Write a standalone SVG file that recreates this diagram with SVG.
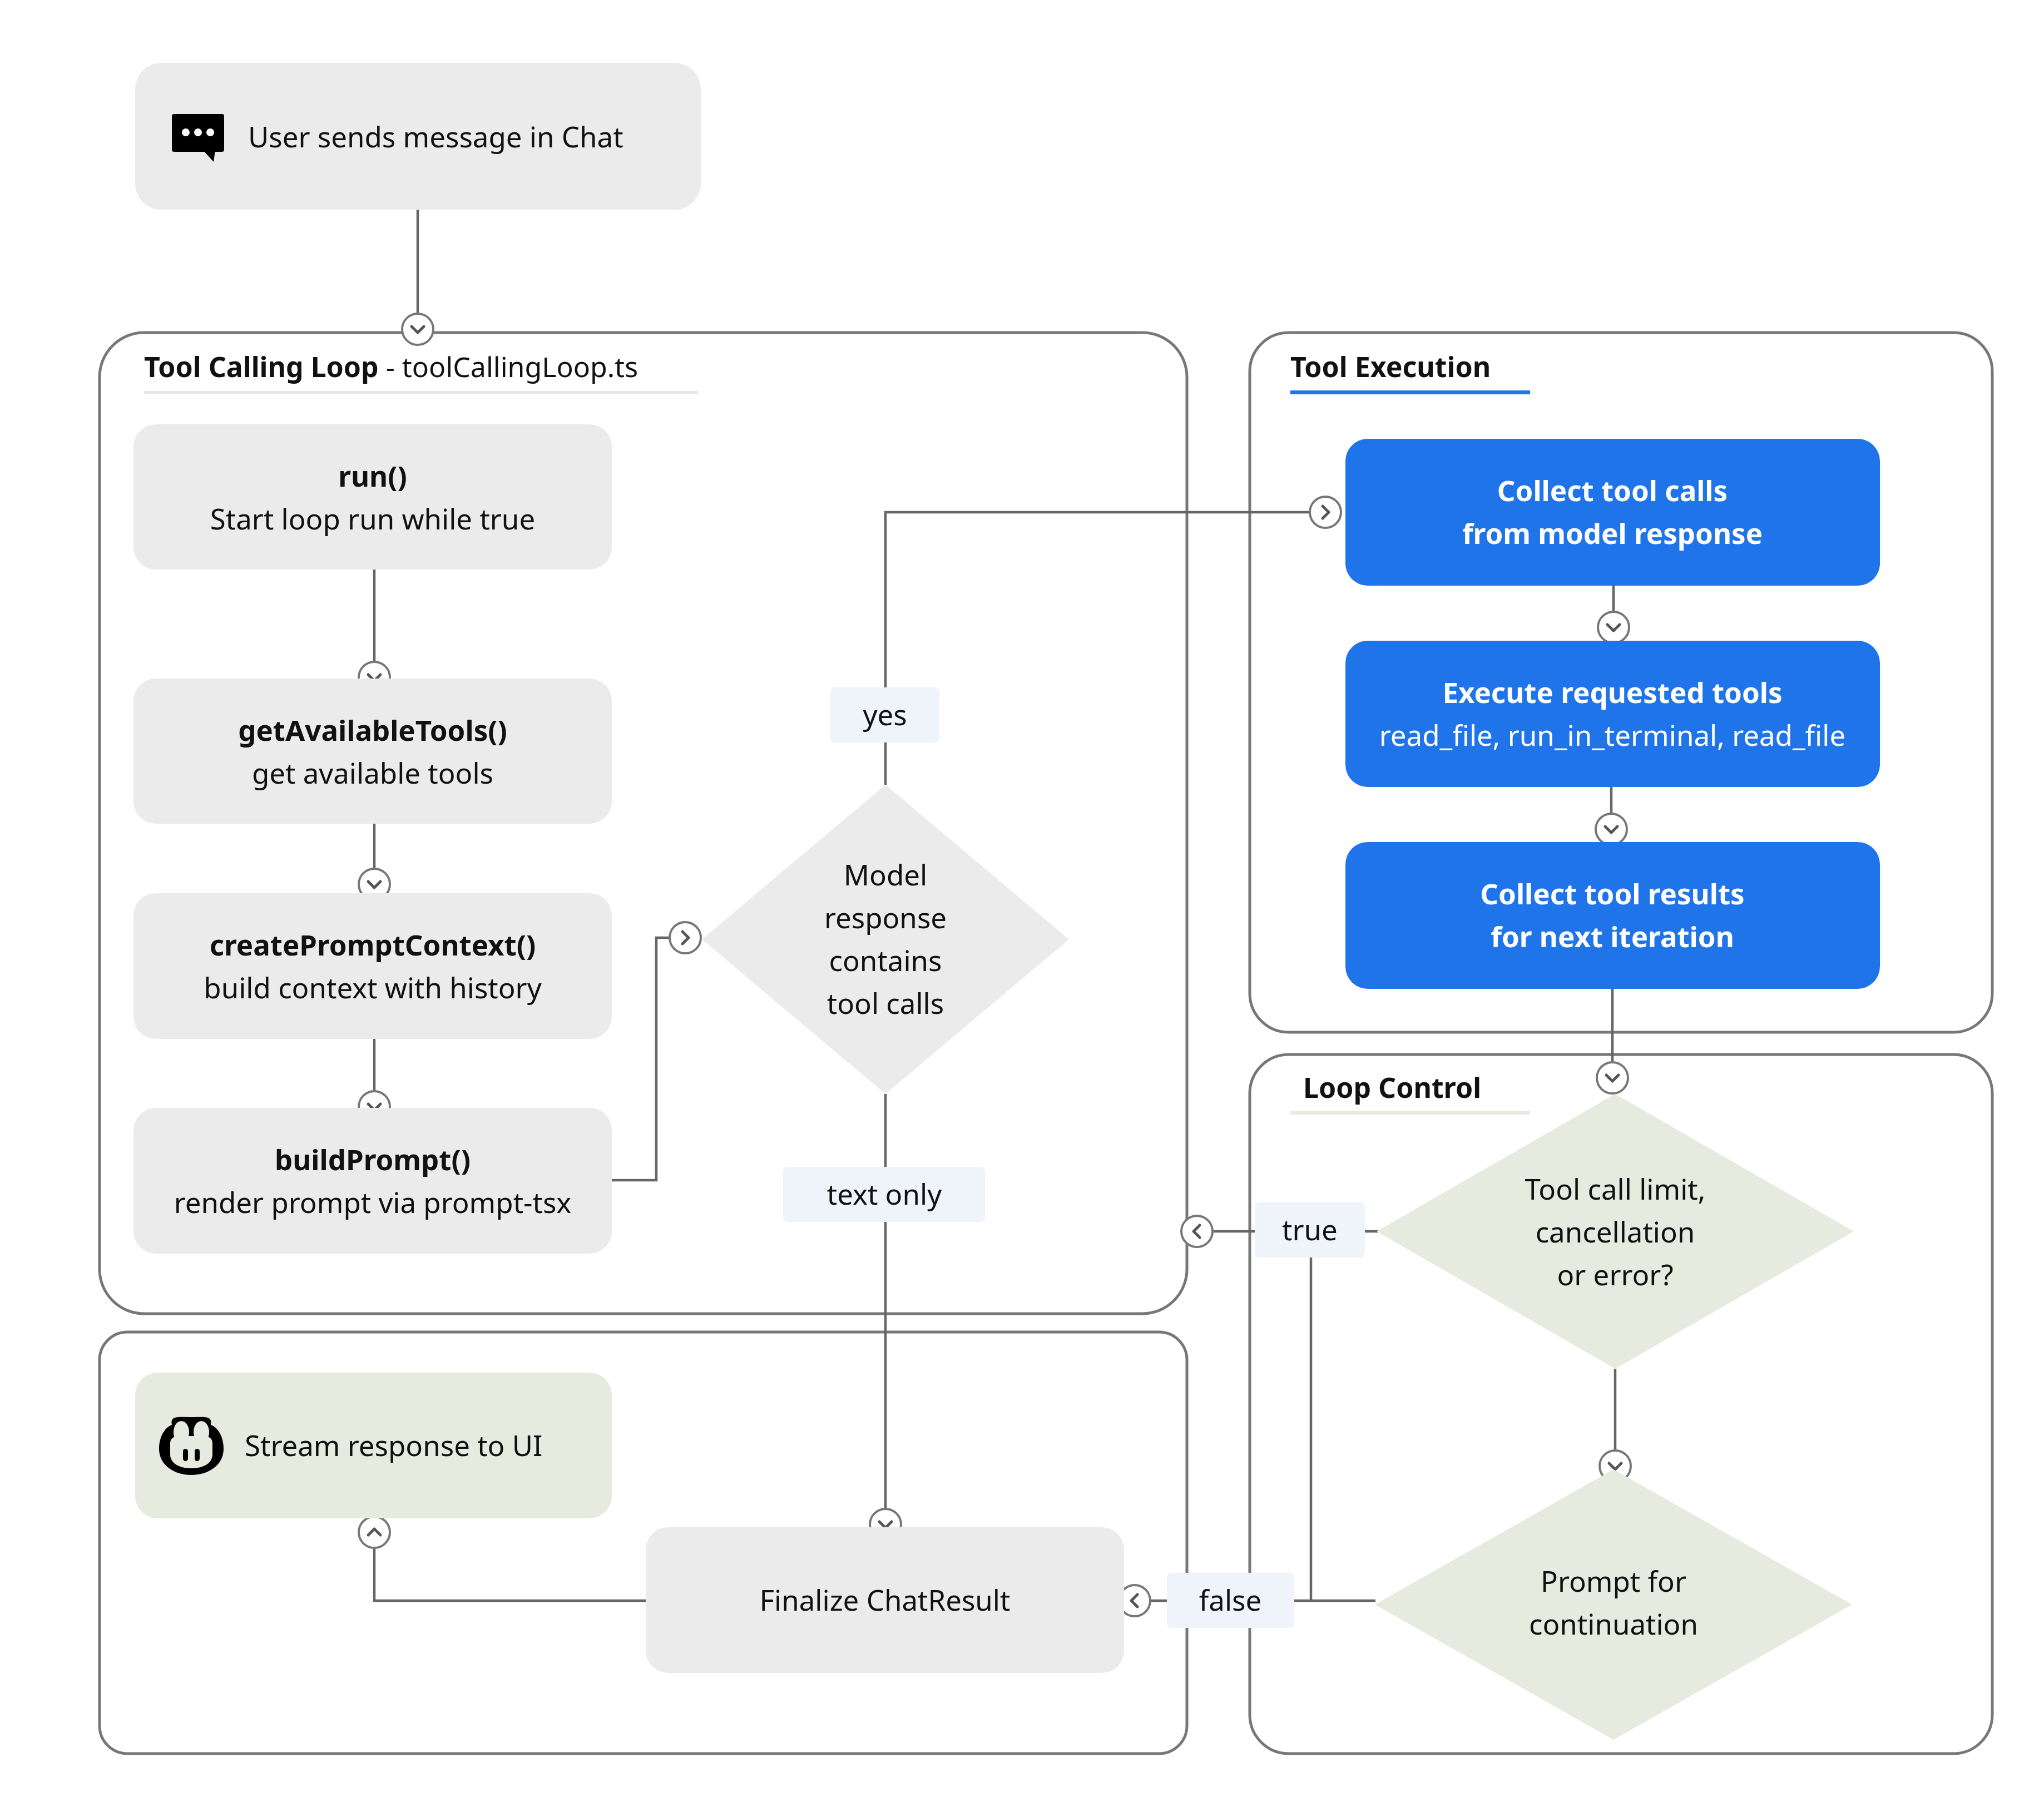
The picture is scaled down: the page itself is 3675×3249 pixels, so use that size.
<svg xmlns="http://www.w3.org/2000/svg" width="3675" height="3249" viewBox="0 0 3675 3249">
<style>
.t{font-family:"Noto Sans","Open Sans",sans-serif;font-size:51px;fill:#111;text-anchor:middle}
.b{font-weight:bold}
.w{fill:#fff;font-weight:bold}
.ttl{font-family:"Noto Sans","Open Sans",sans-serif;font-size:50px;font-weight:bold;fill:#111}
.grp{fill:#fff;stroke:#777;stroke-width:5}
.n{fill:#ebebeb}
.bl{fill:#1f74ea}
.lc{fill:#e6eadf}
.lab{fill:#eef4fa}
.c{fill:none;stroke:#666;stroke-width:4.5}
.dot{fill:#fff;stroke:#777;stroke-width:4}
.chev{fill:none;stroke:#555;stroke-width:5;stroke-linecap:round;stroke-linejoin:round}
</style>
<defs>
<g id="cd"><circle r="28" class="dot"/><path d="M-11,-5 L0,6 L11,-5" class="chev"/></g>
<g id="cu"><circle r="28" class="dot"/><path d="M-11,5 L0,-6 L11,5" class="chev"/></g>
<g id="cr"><circle r="28" class="dot"/><path d="M-5,-11 L6,0 L-5,11" class="chev"/></g>
<g id="cl"><circle r="28" class="dot"/><path d="M5,-11 L-6,0 L5,11" class="chev"/></g>
</defs>
<rect width="3675" height="3249" fill="#fff"/>
<g id="containers">
<rect x="179" y="598" width="1955" height="1764" rx="80" class="grp"/>
<rect x="2247" y="598" width="1335" height="1258" rx="70" class="grp"/>
<rect x="2247" y="1896" width="1335" height="1257" rx="70" class="grp"/>
<rect x="179" y="2395" width="1955" height="758" rx="50" class="grp"/>
<text x="259" y="678" class="ttl">Tool Calling Loop <tspan font-weight="normal">- toolCallingLoop.ts</tspan></text>
<rect x="259" y="703" width="996" height="6" fill="#e8e8e8"/>
<text x="2320" y="678" class="ttl">Tool Execution</text>
<rect x="2320" y="702" width="431" height="7" fill="#1f74ea"/>
<text x="2343" y="1974" class="ttl">Loop Control</text>
<rect x="2320" y="1998" width="431" height="6" fill="#e6eadf"/>
</g>
<g id="connectors">
<path class="c" d="M751,377 V564"/>
<path class="c" d="M673,1024 V1190"/>
<path class="c" d="M673,1481 V1562"/>
<path class="c" d="M673,1868 V1962"/>
<path class="c" d="M1100,2122 H1180 V1686 H1204"/>
<path class="c" d="M1592,1411 V921 H2355"/>
<path class="c" d="M1592,1967 V2713"/>
<path class="c" d="M2901,1053 V1100"/>
<path class="c" d="M2897,1415 V1463"/>
<path class="c" d="M2899,1778 V1910"/>
<path class="c" d="M2478,2214 H2180"/>
<path class="c" d="M2904,2461 V2608"/>
<path class="c" d="M2357,2214 V2878"/>
<path class="c" d="M2473,2878 H2068"/>
<path class="c" d="M1161,2878 H673 V2783"/>
<use href="#cd" x="751" y="592"/>
<use href="#cd" x="673" y="1218"/>
<use href="#cd" x="673" y="1590"/>
<use href="#cd" x="673" y="1990"/>
<use href="#cr" x="1232" y="1686"/>
<use href="#cr" x="2383" y="921"/>
<use href="#cd" x="1592" y="2741"/>
<use href="#cd" x="2901" y="1128"/>
<use href="#cd" x="2897" y="1491"/>
<use href="#cd" x="2899" y="1938"/>
<use href="#cl" x="2152" y="2214"/>
<use href="#cd" x="2904" y="2636"/>
<use href="#cl" x="2040" y="2878"/>
<use href="#cu" x="673" y="2755"/>
<rect x="1493" y="1236" width="196" height="99" rx="8" class="lab"/>
<text x="1591" y="1304" class="t">yes</text>
<rect x="1408" y="2098" width="363" height="99" rx="8" class="lab"/>
<text x="1590" y="2166" class="t">text only</text>
<rect x="2256" y="2162" width="198" height="99" rx="8" class="lab"/>
<text x="2355" y="2230" class="t">true</text>
<rect x="2098" y="2828" width="229" height="99" rx="8" class="lab"/>
<text x="2212" y="2896" class="t">false</text>
</g>
<g id="user">
<rect x="243" y="113" width="1017" height="264" rx="47" class="n"/>
<rect x="309" y="205" width="94" height="68" rx="4" fill="#000"/>
<path d="M365,270 L387,270 L384,291 Z" fill="#000"/>
<circle cx="334" cy="238" r="7" fill="#fff"/><circle cx="356" cy="238" r="7" fill="#fff"/><circle cx="378" cy="238" r="7" fill="#fff"/>
<text x="446" y="265" class="t" style="text-anchor:start">User sends message in Chat</text>
</g>
<g id="run"><rect x="240" y="763" width="860" height="261" rx="40" class="n"/>
<text x="670" y="875" class="t b">run()</text><text x="670" y="952" class="t">Start loop run while true</text></g>
<g id="tools"><rect x="240" y="1220" width="860" height="261" rx="40" class="n"/>
<text x="670" y="1332" class="t b">getAvailableTools()</text><text x="670" y="1409" class="t">get available tools</text></g>
<g id="ctx"><rect x="240" y="1606" width="860" height="262" rx="40" class="n"/>
<text x="670" y="1718" class="t b">createPromptContext()</text><text x="670" y="1795" class="t">build context with history</text></g>
<g id="build"><rect x="240" y="1992" width="860" height="262" rx="40" class="n"/>
<text x="670" y="2104" class="t b">buildPrompt()</text><text x="670" y="2181" class="t">render prompt via prompt-tsx</text></g>
<g id="model"><path d="M1592,1411 L1922,1689 L1592,1967 L1262,1689 Z" fill="#ebebeb"/>
<text x="1592" y="1592" class="t">Model</text><text x="1592" y="1669" class="t">response</text><text x="1592" y="1746" class="t">contains</text><text x="1592" y="1823" class="t">tool calls</text></g>
<g id="collect"><rect x="2419" y="789" width="961" height="264" rx="40" class="bl"/>
<text x="2899" y="901" class="t w">Collect tool calls</text><text x="2899" y="978" class="t w">from model response</text></g>
<g id="exec"><rect x="2419" y="1152" width="961" height="263" rx="40" class="bl"/>
<text x="2899" y="1264" class="t w">Execute requested tools</text><text x="2899" y="1341" class="t" style="fill:#fff">read_file, run_in_terminal, read_file</text></g>
<g id="results"><rect x="2419" y="1514" width="961" height="264" rx="40" class="bl"/>
<text x="2899" y="1626" class="t w">Collect tool results</text><text x="2899" y="1703" class="t w">for next iteration</text></g>
<g id="limit"><path d="M2904,1967 L3333,2214 L2904,2461 L2475,2214 Z" class="lc"/>
<text x="2904" y="2157" class="t">Tool call limit,</text><text x="2904" y="2234" class="t">cancellation</text><text x="2904" y="2311" class="t">or error?</text></g>
<g id="cont"><path d="M2901,2642 L3330,2885 L2901,3128 L2472,2885 Z" class="lc"/>
<text x="2901" y="2862" class="t">Prompt for</text><text x="2901" y="2939" class="t">continuation</text></g>
<g id="stream"><rect x="243" y="2468" width="857" height="262" rx="40" class="lc"/>
<g transform="translate(344,2600)">
<path d="M-58,5 C-58,-20 -45,-35 -35,-38 C-38,-55 -25,-52 0,-52 C25,-52 38,-55 35,-38 C45,-35 58,-20 58,5 C58,35 30,52 0,52 C-30,52 -58,35 -58,5 Z" fill="#000"/>
<path d="M-38,-5 C-38,-15 -30,-18 -20,-18 L20,-18 C30,-18 38,-15 38,-5 L38,15 C38,32 20,40 0,40 C-20,40 -38,32 -38,15 Z" fill="#e6eadf"/>
<ellipse cx="-18" cy="-25" rx="14" ry="20" fill="#e6eadf"/><ellipse cx="18" cy="-25" rx="14" ry="20" fill="#e6eadf"/>
<rect x="-15" y="5" width="9" height="22" rx="4.5" fill="#000"/><rect x="6" y="5" width="9" height="22" rx="4.5" fill="#000"/>
</g>
<text x="440" y="2618" class="t" style="text-anchor:start">Stream response to UI</text></g>
<g id="finalize"><rect x="1161" y="2746" width="860" height="262" rx="40" class="n"/>
<text x="1591" y="2896" class="t">Finalize ChatResult</text></g>
</svg>
